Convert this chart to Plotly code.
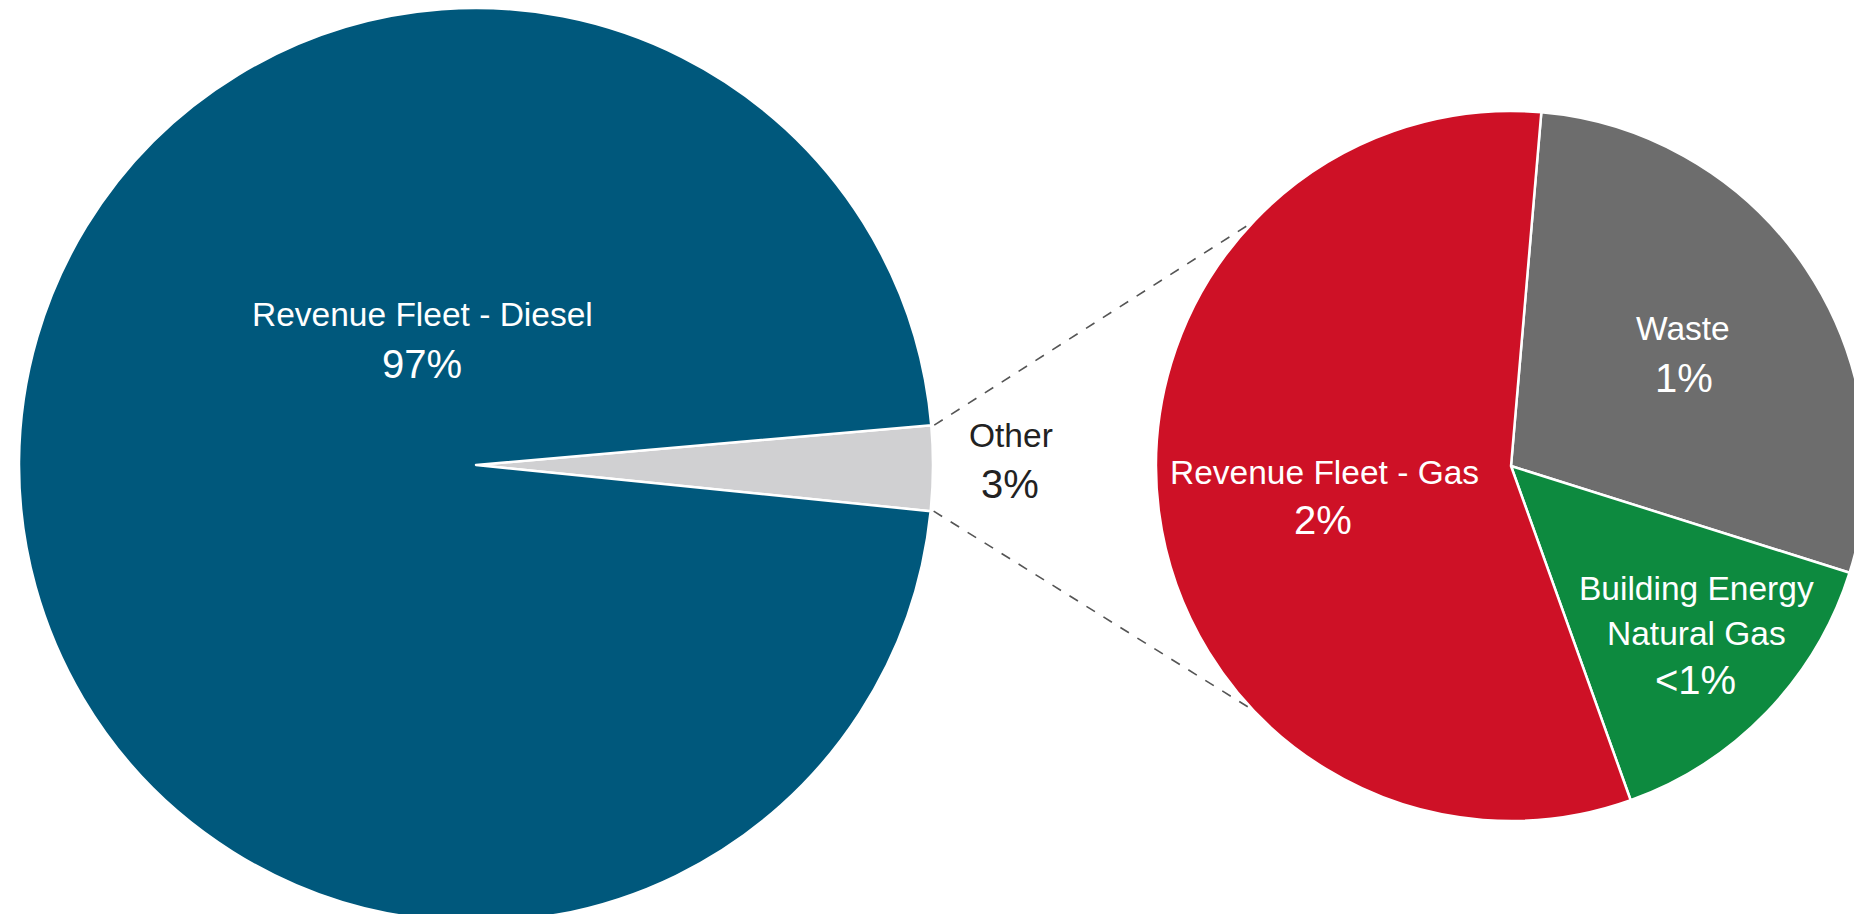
import math
import plotly.graph_objects as go

# ---- data ----
main_labels = ["Other", "Revenue Fleet - Diesel"]
main_values = [3, 97]
main_pct_text = ["3%", "97%"]
main_colors = ["#D0D0D2", "#00587C"]

sub_labels = ["Waste", "Building Energy<br>Natural Gas", "Revenue Fleet - Gas"]
sub_values = [0.855, 0.44, 1.705]
sub_pct_text = ["1%", "<1%", "2%"]
sub_colors = ["#6D6D6D", "#0D8A3F", "#CE1126"]

# ---- layout geometry (pixels) ----
W, H = 1862, 914
L_CX, L_CY, L_R = 468, 457, 457
R_CX, R_CY, R_R = 1503, 458, 355
MAIN_ROT = 85.0   # start of "Other" slice, clockwise from 12 o'clock
SUB_ROT = 4.9
CONNECT_ANGLE = 43.5  # degrees from horizontal on right pie (west side)


def px_x(x):
    return x / W


def px_y(y):
    return 1 - y / H


fig = go.Figure()

fig.add_trace(go.Pie(
    labels=main_labels, values=main_values, sort=False, direction="clockwise",
    rotation=MAIN_ROT, textinfo="none", hoverinfo="label+percent",
    marker=dict(colors=main_colors, line=dict(color="white", width=2.5)),
    domain=dict(x=[px_x(L_CX - L_R), px_x(L_CX + L_R)], y=[px_y(L_CY + L_R), px_y(L_CY - L_R)]),
    showlegend=False,
))

fig.add_trace(go.Pie(
    labels=sub_labels, values=sub_values, sort=False, direction="clockwise",
    rotation=SUB_ROT, textinfo="none", hoverinfo="label",
    marker=dict(colors=sub_colors, line=dict(color="white", width=2.5)),
    domain=dict(x=[px_x(R_CX - R_R), px_x(R_CX + R_R)], y=[px_y(R_CY + R_R), px_y(R_CY - R_R)]),
    showlegend=False,
))

# ---- connector lines computed from the pie geometry ----
other_span = 360 * main_values[0] / sum(main_values)
angles = [MAIN_ROT, MAIN_ROT + other_span]
left_pts = []
for a in angles:
    t = math.radians(a)
    left_pts.append((L_CX + L_R * math.sin(t), L_CY - L_R * math.cos(t)))
right_pts = []
for s in (-1, 1):
    t = math.radians(CONNECT_ANGLE)
    right_pts.append((R_CX - R_R * math.cos(t), R_CY + s * R_R * math.sin(t)))

for (x0, y0), (x1, y1) in zip(left_pts, right_pts):
    fig.add_shape(type="line", xref="paper", yref="paper",
                  x0=px_x(x0 + 3), y0=px_y(y0), x1=px_x(x1), y1=px_y(y1),
                  line=dict(color="#555555", width=1.6, dash="10px,10px"))

# ---- labels ----
FONT = "Liberation Sans, Arial, sans-serif"
NAME_SIZE = 33.5
PCT_SIZE = 40

label_items = [
    # text, x, y, size, color
    ("Revenue Fleet - Diesel", 414, 306, NAME_SIZE, "white"),
    (main_pct_text[1], 414, 356, PCT_SIZE, "white"),
    ("Other", 1003, 427, NAME_SIZE, "#222222"),
    (main_pct_text[0], 1002, 476, PCT_SIZE, "#222222"),
    ("Waste", 1675, 320, NAME_SIZE, "white"),
    (sub_pct_text[0], 1676, 370, PCT_SIZE, "white"),
    ("Revenue Fleet - Gas", 1316, 464, NAME_SIZE, "white"),
    (sub_pct_text[2], 1315, 512, PCT_SIZE, "white"),
    ("Building Energy", 1688, 580, NAME_SIZE, "white"),
    ("Natural Gas", 1688, 625, NAME_SIZE, "white"),
    (sub_pct_text[1], 1687, 672, PCT_SIZE, "white"),
]
for text, x, y, size, color in label_items:
    fig.add_annotation(text=text, x=px_x(x), y=px_y(y), xref="paper", yref="paper",
                       xanchor="center", yanchor="middle", showarrow=False,
                       font=dict(family=FONT, size=size, color=color))

fig.update_layout(
    width=W, height=H,
    margin=dict(l=0, r=0, t=0, b=0),
    paper_bgcolor="white", plot_bgcolor="white",
)

fig.write_html("out.html")
